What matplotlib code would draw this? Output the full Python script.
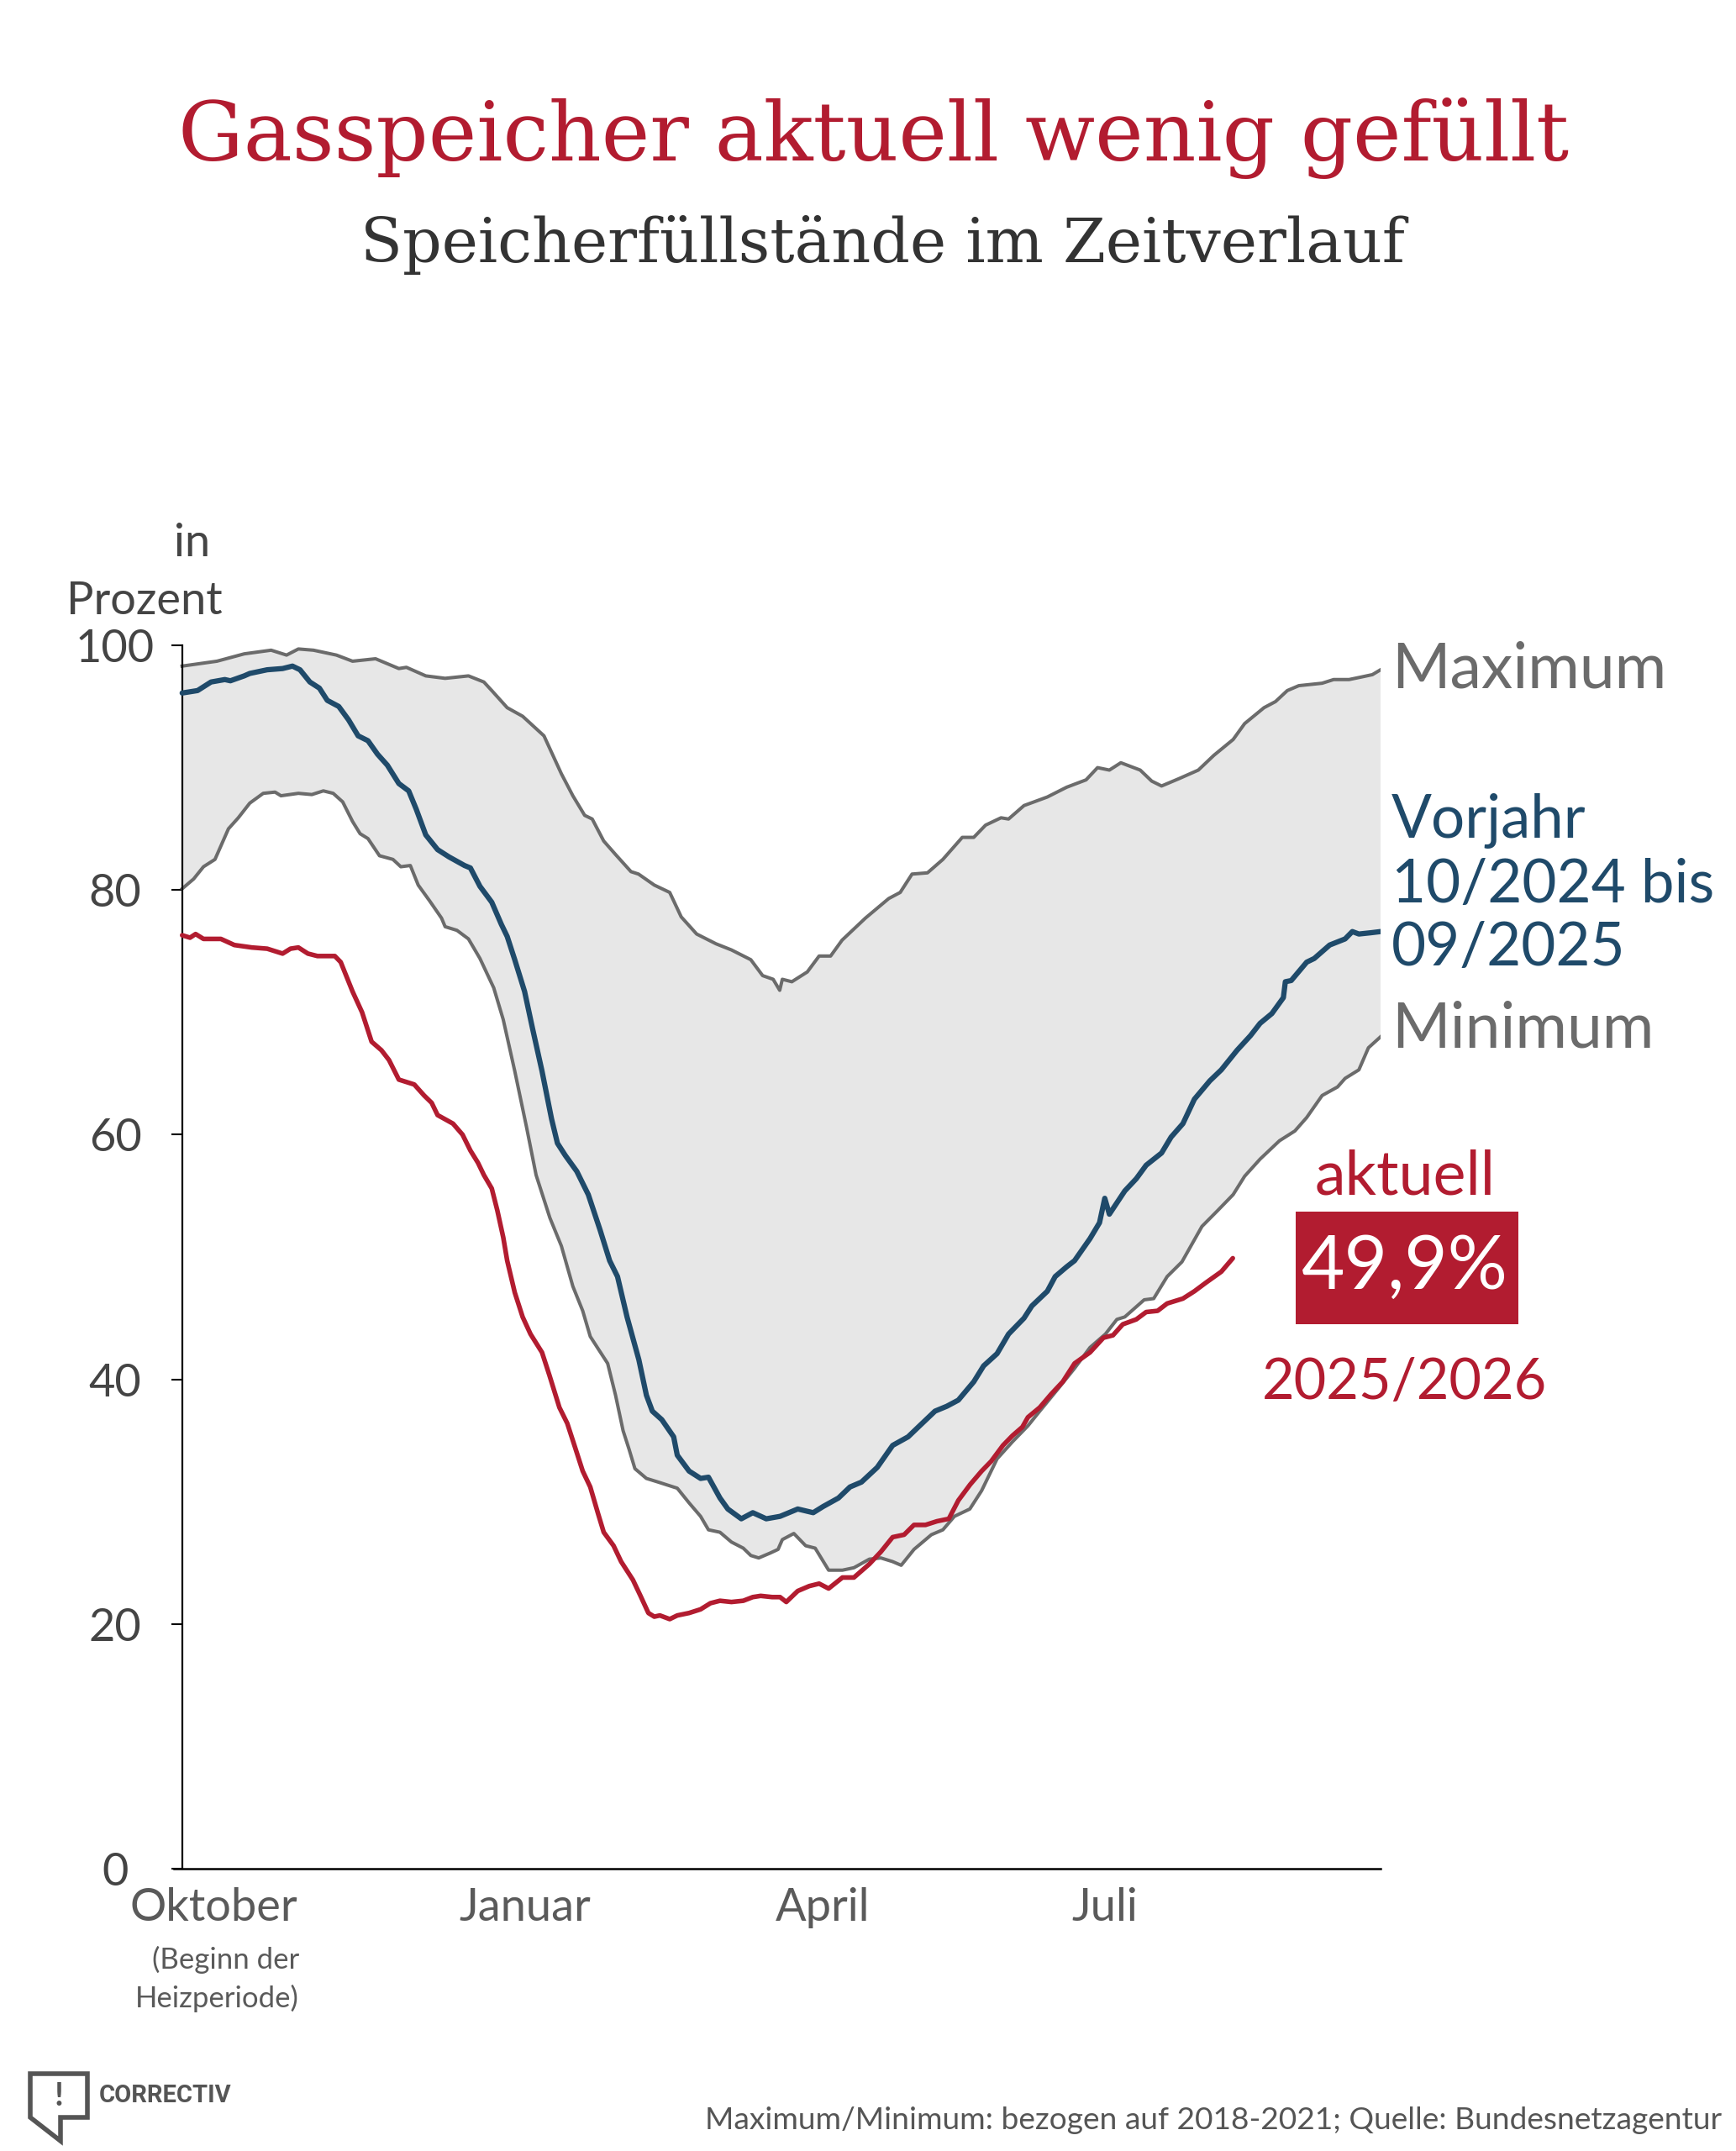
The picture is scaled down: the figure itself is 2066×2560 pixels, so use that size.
import numpy as np
import matplotlib.pyplot as plt
from matplotlib.patches import Rectangle, Polygon

# Speicherfuellstaende (Tag ab 1. Oktober, Prozent)
max_days = [0, 10.6, 18.9, 27.1, 31.8, 35.4, 40, 47, 51.9, 58.9, 66, 68.3, 74.2, 80.1, 87.2, 91.9, 94.3, 99,
            103.7, 110.2, 115.5, 119, 122.6, 124.9, 128.4, 132, 136.7, 139, 143.8, 148.5, 152, 156.7, 162.6,
            167.3, 173.2, 176.8, 180, 182, 182.8, 185.7, 190.4, 194, 197.5, 201, 208.1, 215.2, 218.7, 222.3,
            227, 231.7, 237.6, 241.1, 244.7, 249.4, 251.7, 256.4, 263.5, 269.4, 275.3, 278.8, 282.4, 285.9,
            291.8, 295.3, 298.3, 303.6, 309.5, 314.2, 320.1, 323.6, 329.5, 333, 336.6, 340.1, 347.2, 350.7,
            355.4, 359, 362.5, 365]
max_vals = [98.3, 98.7, 99.3, 99.6, 99.2, 99.7, 99.6, 99.2, 98.7, 98.9, 98.1, 98.2, 97.5, 97.3, 97.5, 97.0, 96.3,
            94.9, 94.2, 92.6, 89.5, 87.7, 86.1, 85.8, 84.0, 82.9, 81.5, 81.3, 80.4, 79.8, 77.8, 76.4, 75.6, 75.1,
            74.3, 73.0, 72.7, 71.8, 72.7, 72.5, 73.3, 74.6, 74.6, 75.9, 77.7, 79.3, 79.8, 81.3, 81.4, 82.5, 84.3,
            84.3, 85.3, 85.9, 85.8, 86.9, 87.6, 88.4, 89.0, 90.0, 89.8, 90.4, 89.8, 88.9, 88.5, 89.1, 89.8, 91.0,
            92.3, 93.6, 94.9, 95.4, 96.3, 96.7, 96.9, 97.2, 97.2, 97.4, 97.6, 98.0]

min_days = [0, 3.5, 6.5, 10, 14.1, 17.1, 20.6, 24.7, 28.3, 30.1, 35.4, 39.5, 43, 46, 48.9, 51.9, 54.2, 56.6, 60.1,
            64.2, 66.6, 69.5, 71.9, 75.4, 79, 80.1, 83.7, 87.2, 90.7, 94.9, 97.8, 101.3, 104.9, 107.8, 112, 115.5,
            119, 122, 124.3, 126.7, 129.6, 132, 134.3, 136.1, 137.9, 141.4, 145, 150.8, 154.4, 157.9, 160.3,
            163.8, 167.3, 170.9, 173.2, 175.6, 179.1, 181.5, 182.8, 186.3, 189.9, 192.8, 196.9, 201.1, 204.6,
            209.3, 212.8, 216.4, 219, 222.9, 228.2, 231.7, 235.2, 239.9, 243.5, 248.2, 252.9, 257.6, 261.2, 267,
            271.8, 276.5, 281.2, 284.7, 287.1, 293, 295.9, 300, 304.5, 310.6, 315.4, 320.1, 323.6, 328.3, 334.2,
            338.9, 342.5, 347.2, 351.9, 354.2, 358.4, 361.3, 365]
min_vals = [80.1, 80.9, 81.9, 82.5, 85.0, 85.9, 87.1, 87.9, 88.0, 87.7, 87.9, 87.8, 88.1, 87.9, 87.2, 85.6, 84.6,
            84.2, 82.8, 82.5, 81.9, 82.0, 80.4, 79.1, 77.7, 77.0, 76.7, 76.0, 74.4, 72.0, 69.4, 65.2, 60.6, 56.7,
            53.2, 50.9, 47.6, 45.6, 43.5, 42.5, 41.3, 38.7, 35.8, 34.3, 32.7, 31.9, 31.6, 31.1, 29.9, 28.8, 27.7,
            27.5, 26.7, 26.2, 25.6, 25.4, 25.8, 26.1, 26.9, 27.4, 26.4, 26.2, 24.4, 24.4, 24.6, 25.3, 25.4, 25.1,
            24.8, 26.1, 27.3, 27.7, 28.8, 29.4, 30.9, 33.5, 34.9, 36.2, 37.4, 39.3, 40.9, 42.6, 43.7, 44.9, 45.1,
            46.5, 46.6, 48.4, 49.6, 52.5, 53.8, 55.1, 56.6, 58.0, 59.5, 60.3, 61.4, 63.2, 63.9, 64.6, 65.3, 67.1,
            68.0]

vorjahr_days = [0, 4.7, 8.8, 13, 14.7, 18.9, 20.6, 25.9, 30.6, 33.6, 35.9, 38.9, 41.8, 44.2, 47.7, 50.7, 53.6,
                56.6, 59.5, 62.5, 66, 69, 71.3, 74.2, 77.8, 81.3, 86, 87.8, 90.7, 94.3, 97.2, 99, 101.3, 104.3,
                106.7, 109.6, 112.5, 114.3, 116.7, 120.2, 123.7, 127.3, 130.2, 132.6, 135.5, 139.1, 141.4, 143.2,
                146.1, 149.7, 150.8, 154.4, 157.9, 160.3, 163.8, 166.2, 170.3, 173.8, 177.9, 182.1, 187.5, 192.2,
                195.2, 199.9, 203.4, 206.9, 211.7, 216.4, 221.1, 224.6, 229.3, 232.9, 236.4, 241.1, 244.1, 248.2,
                251.7, 256.4, 258.8, 263.5, 265.9, 269.4, 271.8, 276.5, 279.4, 281, 282.4, 287.1, 290.6, 293.6,
                298.3, 301.2, 304.8, 308.3, 313, 316.5, 321.3, 325.4, 328.3, 331.9, 335.4, 336, 337.8, 342.5,
                344.8, 349.5, 354.2, 356.4, 358.4, 361.9, 365]
vorjahr_vals = [96.1, 96.3, 97.0, 97.2, 97.1, 97.5, 97.7, 98.0, 98.1, 98.3, 98.0, 97.0, 96.5, 95.5, 95.0, 93.9,
                92.6, 92.2, 91.1, 90.2, 88.7, 88.1, 86.6, 84.5, 83.3, 82.7, 82.0, 81.8, 80.3, 79.0, 77.2, 76.2,
                74.3, 71.7, 68.7, 65.2, 61.3, 59.3, 58.3, 57.0, 55.1, 52.2, 49.7, 48.4, 45.1, 41.6, 38.7, 37.4,
                36.7, 35.3, 33.8, 32.5, 31.9, 32.0, 30.3, 29.4, 28.6, 29.1, 28.6, 28.8, 29.4, 29.1, 29.6, 30.3,
                31.2, 31.6, 32.8, 34.6, 35.3, 36.2, 37.4, 37.8, 38.3, 39.8, 41.1, 42.1, 43.7, 45.0, 46.0, 47.2,
                48.4, 49.2, 49.7, 51.5, 52.8, 54.8, 53.5, 55.4, 56.4, 57.5, 58.5, 59.8, 60.9, 62.9, 64.4, 65.3,
                66.9, 68.1, 69.1, 69.9, 71.2, 72.5, 72.6, 74.1, 74.4, 75.5, 76.0, 76.6, 76.4, 76.5, 76.6]

aktuell_days = [0, 2.4, 4.1, 6.5, 11.8, 15.9, 21.2, 25.9, 30.6, 33, 35.4, 38.3, 41.2, 46.5, 48.3, 51.9, 54.8,
                57.7, 60.7, 63, 66, 70.7, 73.7, 76, 77.8, 82.5, 85.4, 87.8, 90.1, 91.9, 94.3, 96, 97.8, 99, 101.3,
                103.7, 106.1, 109.6, 111.9, 114.9, 117.3, 119.6, 122, 124.3, 126.7, 128.4, 131.4, 133.7, 137.3,
                139.6, 142, 143.8, 145.5, 148.5, 150.8, 154.4, 157.9, 160.9, 163.8, 167.3, 170.9, 173.8, 176.2,
                179.7, 182.1, 184, 187.5, 191, 194, 196.9, 201.1, 204.6, 209.3, 212.8, 216.4, 219.9, 222.9,
                226.4, 229.9, 233.5, 236.4, 240, 243.5, 246.4, 250, 252.9, 255.9, 257.6, 261.2, 264.7, 268.2,
                271.8, 276.5, 280.6, 283.5, 286.5, 290.6, 293.6, 297.1, 300, 304.8, 308.3, 311.8, 316.5, 320]
aktuell_vals = [76.3, 76.1, 76.4, 76.0, 76.0, 75.5, 75.3, 75.2, 74.8, 75.2, 75.3, 74.8, 74.6, 74.6, 74.1, 71.7,
                70.0, 67.6, 66.9, 66.1, 64.5, 64.1, 63.2, 62.6, 61.6, 60.9, 60.0, 58.7, 57.7, 56.7, 55.6, 53.8,
                51.6, 49.7, 47.1, 45.1, 43.7, 42.2, 40.3, 37.7, 36.4, 34.5, 32.5, 31.2, 29.0, 27.5, 26.4, 25.1,
                23.6, 22.3, 20.9, 20.6, 20.7, 20.4, 20.7, 20.9, 21.2, 21.7, 21.9, 21.8, 21.9, 22.2, 22.3, 22.2,
                22.2, 21.8, 22.7, 23.1, 23.3, 22.9, 23.8, 23.8, 24.9, 25.9, 27.1, 27.3, 28.1, 28.1, 28.4, 28.6,
                30.1, 31.4, 32.5, 33.3, 34.6, 35.4, 36.1, 36.9, 37.7, 38.8, 39.8, 41.3, 42.2, 43.4, 43.6, 44.5,
                44.9, 45.5, 45.6, 46.2, 46.6, 47.2, 47.9, 48.8, 49.9]

month_pos = [9.5, 104.5, 195, 281]
month_labels = ['Oktober', 'Januar', 'April', 'Juli']
y_ticks = [0, 20, 40, 60, 80, 100]

RED = '#b21c30'
BLUE = '#1f4a6a'
GRAY = '#6b6b6b'
FILL = '#e7e7e7'
SANS = ['Lato', 'DejaVu Sans']

W, H = 2066, 2560


def fx(x):
    return x / W


def fy(y):
    return 1 - y / H


plt.rcParams['font.family'] = SANS

fig = plt.figure(figsize=(W / 100, H / 100), dpi=100)
ax = fig.add_axes([fx(207), fy(2224), fx(1643) - fx(207), fy(768) - fy(2224)])

ax.fill(np.concatenate([max_days, min_days[::-1]]), np.concatenate([max_vals, min_vals[::-1]]),
        color=FILL, lw=0, zorder=1)
ax.plot(max_days, max_vals, color=GRAY, lw=2.9, zorder=2)
ax.plot(min_days, min_vals, color=GRAY, lw=2.9, zorder=2)
ax.plot(vorjahr_days, vorjahr_vals, color=BLUE, lw=4.5, zorder=3, solid_capstyle='round')
ax.plot(aktuell_days, aktuell_vals, color=RED, lw=4.0, zorder=4, solid_capstyle='round')

ax.set_xlim(-2.5, 365)
ax.set_ylim(0, 100)
for s in ['top', 'right']:
    ax.spines[s].set_visible(False)
ax.spines['left'].set_position(('data', 0))
ax.spines['left'].set_linewidth(1.6)
ax.spines['bottom'].set_linewidth(1.8)

ax.set_yticks(y_ticks)
ax.set_yticklabels([str(v) for v in y_ticks], ha='center')
ax.tick_params(axis='y', length=9.4, width=1.5, pad=48, labelsize=39, labelcolor='#444444')

ax.set_xticks(month_pos)
ax.set_xticklabels(month_labels)
ax.tick_params(axis='x', length=0, pad=16, labelsize=39, labelcolor='#5a5a5a')

fig.text(fx(250), fy(662), 'in', ha='right', va='baseline', fontsize=39, color='#444444')
fig.text(fx(265), fy(731), 'Prozent', ha='right', va='baseline', fontsize=39, color='#444444')
fig.text(fx(356), fy(2343), '(Beginn der', ha='right', va='baseline', fontsize=25, color='#5a5a5a')
fig.text(fx(356), fy(2389), 'Heizperiode)', ha='right', va='baseline', fontsize=25, color='#5a5a5a')

# Beschriftungen rechts
lx = 368.3
ax.text(lx, max_vals[-1], 'Maximum', fontsize=54, color=GRAY, va='center', ha='left', clip_on=False)
ax.text(lx, min_vals[-1] + 0.6, 'Minimum', fontsize=54, color=GRAY, va='center', ha='left', clip_on=False)
ax.text(lx, 84.3, 'Vorjahr', fontsize=51, color=BLUE, va='baseline', ha='left', clip_on=False)
ax.text(lx, 79.0, '10/2024 bis', fontsize=51, color=BLUE, va='baseline', ha='left', clip_on=False)
ax.text(lx, 73.8, '09/2025', fontsize=51, color=BLUE, va='baseline', ha='left', clip_on=False)

cx = 372.4
ax.text(cx, 55.1, 'aktuell', fontsize=53, color=RED, ha='center', va='baseline', clip_on=False)
ax.add_patch(Rectangle((339.1, 44.5), 67.9, 9.2, facecolor=RED, edgecolor='none', clip_on=False, zorder=5))
last_txt = f'{aktuell_vals[-1]:.1f}'.replace('.', ',') + '%'
ax.text(cx, 49.1, last_txt, fontsize=64, color='white', ha='center', va='center', clip_on=False, zorder=6)
ax.text(cx, 38.4, '2025/2026', fontsize=48, color=RED, ha='center', va='baseline', clip_on=False)

# Titel
title = fig.text(fx(1040), fy(191), 'Gasspeicher aktuell wenig gefüllt', ha='center', va='baseline',
                 fontsize=70, color=RED, family='DejaVu Serif')
sub = fig.text(fx(1050), fy(312), 'Speicherfüllstände im Zeitverlauf', ha='center', va='baseline',
               fontsize=50, color='#333333', family='DejaVu Serif')
foot = fig.text(fx(2049), fy(2534), 'Maximum/Minimum: bezogen auf 2018-2021; Quelle: Bundesnetzagentur',
                ha='right', va='baseline', fontsize=24, color='#555555')

# Logo
fig.patches.append(Polygon([[fx(36), fy(2468)], [fx(104), fy(2468)], [fx(104), fy(2520)], [fx(72), fy(2520)],
                            [fx(72), fy(2548)], [fx(36), fy(2520)]], closed=True, fill=False,
                           edgecolor='#555555', lw=4, transform=fig.transFigure, figure=fig))
fig.text(fx(70), fy(2494), '!', ha='center', va='center', fontsize=28, fontweight='bold', color='#555555')
logo = fig.text(fx(118), fy(2494), 'CORRECTIV', ha='left', va='center', fontsize=22, fontweight='bold',
                color='#555555', family=['Roboto', 'DejaVu Sans'])


def fit_width(t, target):
    fig.canvas.draw()
    w = t.get_window_extent().width
    t.set_fontsize(t.get_fontsize() * target / w)


fit_width(title, 1657)
fit_width(sub, 1245)
fit_width(foot, 1210)
fit_width(logo, 157)

fig.savefig('out.png', dpi=100, facecolor='white')
